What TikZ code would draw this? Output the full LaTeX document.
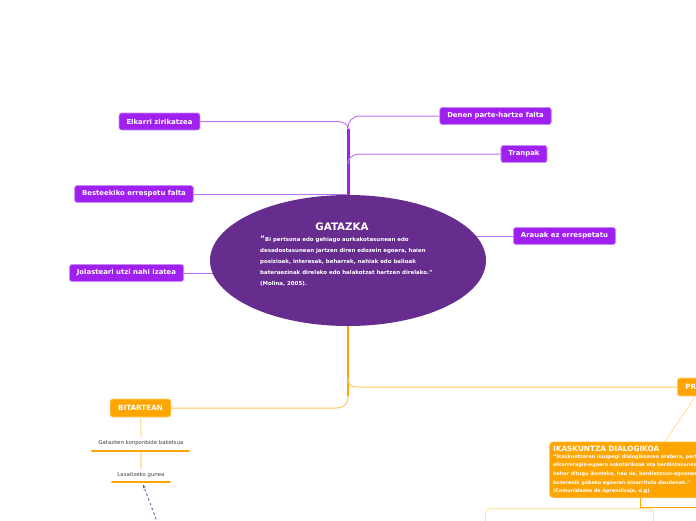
\documentclass[tikz,border=0pt]{standalone}
\usepackage{fontspec}
\setmainfont{DejaVu Sans}
\usetikzlibrary{shapes.geometric,backgrounds,arrows.meta}
\definecolor{ellpurple}{HTML}{662D8F}
\definecolor{nodepurple}{HTML}{A020F0}
\definecolor{nodepurpleedge}{HTML}{C88CF5}
\definecolor{branchpurple}{HTML}{BD72F3}
\definecolor{nodeorange}{HTML}{FFA500}
\definecolor{nodeorangeedge}{HTML}{FFD27A}
\definecolor{branchorange}{HTML}{FFC85F}
\definecolor{paleorange}{HTML}{FFE2A8}
\definecolor{graytext}{HTML}{444444}
\definecolor{dashpurple}{HTML}{6B3FA0}
\tikzset{
  pnode/.style={rounded corners=2.5pt, fill=nodepurple, draw=nodepurpleedge, line width=0.7pt,
    text=white, font=\bfseries\fontsize{6.9}{8}\selectfont, minimum height=17pt, inner xsep=7.5pt, inner ysep=0pt},
  onode/.style={rounded corners=2.5pt, fill=nodeorange, draw=nodeorangeedge, line width=0.7pt,
    text=white, font=\bfseries\fontsize{7.2}{8}\selectfont, minimum height=18pt, inner xsep=8pt, inner ysep=0pt},
  pbranch/.style={draw=branchpurple, line width=1pt},
  ptrunk/.style={draw=nodepurple, line width=3pt},
  obranch/.style={draw=branchorange, line width=1pt},
  otrunk/.style={draw=nodeorange, line width=2.6pt},
  smalltxt/.style={text=graytext, font=\fontsize{5.4}{6}\selectfont, inner sep=1pt},
  uline/.style={draw=nodeorange, line width=2pt, line cap=round},
}
\begin{document}
\begin{tikzpicture}[x=1pt,y=-1pt]
\useasboundingbox (0,0) rectangle (696,520);
\clip (0,0) rectangle (696,520);

% central ellipse
\node[ellipse, fill=ellpurple, minimum width=276pt, minimum height=131pt, inner sep=0pt] (ell) at (348,260.5) {};
\node[text=white, font=\bfseries\fontsize{10.3}{11}\selectfont] (title) at (342,227) {GATAZKA};
\node[anchor=north west, text=white, align=left, inner sep=0pt,
      font=\bfseries\fontsize{5.45}{11}\selectfont] (quote) at (260,235.5)
 {\raisebox{0.8pt}{\fontsize{7.5}{7.5}\selectfont"}Bi pertsona edo gehiago aurkakotasunean edo\\
  desadostasunean jartzen diren edozein egoera, haien\\
  posizioak, interesak, beharrak, nahiak edo balioak\\
  bateraezinak direlako edo halakotzat hartzen direlako."\\
  (Molina, 2005).};

% purple nodes
\node[pnode] (elk) at (159.5,121.5) {Elkarri zirikatzea};
\node[pnode] (bes) at (134,194) {Besteekiko errespetu falta};
\node[pnode] (jol) at (126.5,273) {Jolasteari utzi nahi izatea};
\node[pnode] (den) at (495.5,116) {Denen parte-hartze falta};
\node[pnode] (tra) at (524,154) {Tranpak};
\node[pnode] (ara) at (564.5,236) {Arauak ez errespetatu};

% orange nodes
\node[onode] (bit) at (140.5,408) {BITARTEAN};
\node[onode, anchor=west, text width=76pt, align=left] (pre) at (677,387) {PREBENTZIOA};

% IKASKUNTZA box
\node[rounded corners=4pt, fill=nodeorange, draw=nodeorangeedge, line width=0.6pt, anchor=north west,
      minimum width=190pt, minimum height=56pt, inner sep=0pt] (ika) at (549,441.5) {};
\node[anchor=west, text=white, font=\bfseries\fontsize{7.3}{8}\selectfont, inner sep=0pt] (ikat) at (553,448.7) {IKASKUNTZA DIALOGIKOA};
\node[anchor=north west, text=white, align=left, inner sep=0pt,
      font=\bfseries\fontsize{4.85}{8.7}\selectfont] (ikaq) at (553,454.3)
 {"Ikaskuntzaren ikuspegi dialogikoaren arabera, pertsonok\\
  elkarreragin-egoera askotarikoak eta berdintasunezkoak\\
  behar ditugu ikasteko, hau da, berdintasun-egoeran eta\\
  boterenik gabeko egoeran oinarrituta daudenak."\\
  (Comunidades de Aprendizaje, d.g)};

% lower box outline
\node[rounded corners=5pt, draw=paleorange, line width=1pt, anchor=north west,
      minimum width=168pt, minimum height=60pt, inner sep=0pt] (low) at (485,508) {};

% left bottom items
\node[smalltxt] (g1) at (141,442.7) {Gatazken konponbide baketsua};
\node[smalltxt] (g2) at (141,475) {Lasaitzeko gunea};
\coordinate (g1l) at (92,450.5); \coordinate (g1r) at (189,450.5);
\coordinate (g2l) at (112,481.5); \coordinate (g2r) at (170,481.5);
\coordinate (dashend) at (143,484.5);
\coordinate (dashstart) at (158,524);

\begin{scope}[on background layer]
  \fill[white] (0,0) rectangle (696,520);
  % purple trunk and branches
  \coordinate (ptop) at (348,129);
  \draw[ptrunk] (ptop) -- (ell.north);
  \draw[pbranch] (elk.east) -- (335,121.5) .. controls (344,121.5) and (348,124) .. (ptop);
  \draw[pbranch] (den.west) -- (361,116) .. controls (352,116) and (348,121) .. (ptop);
  \draw[pbranch] (tra.west) -- (361,154) .. controls (352,154) and (348,158) .. (348,164);
  \draw[pbranch] (bes.east) -- (bes.east -| ell.north);
  \draw[pbranch] (jol.east) -- (230,273);
  \draw[pbranch] (ara.west) -- (470,236);
  % orange trunk and branches
  \coordinate (obot) at (348,396);
  \draw[otrunk] (ell.south) -- (obot);
  \draw[obranch] (pre.west) -- (357,387) .. controls (350,387) and (348,384) .. (348,378);
  \draw[obranch] (bit.east) -- (336,408) .. controls (345,408) and (348,403) .. (obot);
  \draw[draw=nodeorangeedge, line width=0.6pt] (695,397) -- (665,441.5);
  \draw[draw=nodeorange, line width=0.8pt] (640.5,497.3) -- (640.5,507.5) -- (700,507.5);
  % left bottom
  \draw[draw=paleorange, line width=1.3pt] (bit.south) -- (141,437.5);
  \draw[draw=paleorange, line width=1.3pt] (141,452) -- (141,469);
\end{scope}
\draw[uline] (g1l) -- (g1r);
\draw[uline] (g2l) -- (g2r);
\draw[draw=dashpurple, line width=0.8pt, dash pattern=on 2.5pt off 2.5pt, -{Stealth[length=4pt,width=3pt]}] (dashstart) -- (dashend);
\end{tikzpicture}
\end{document}
